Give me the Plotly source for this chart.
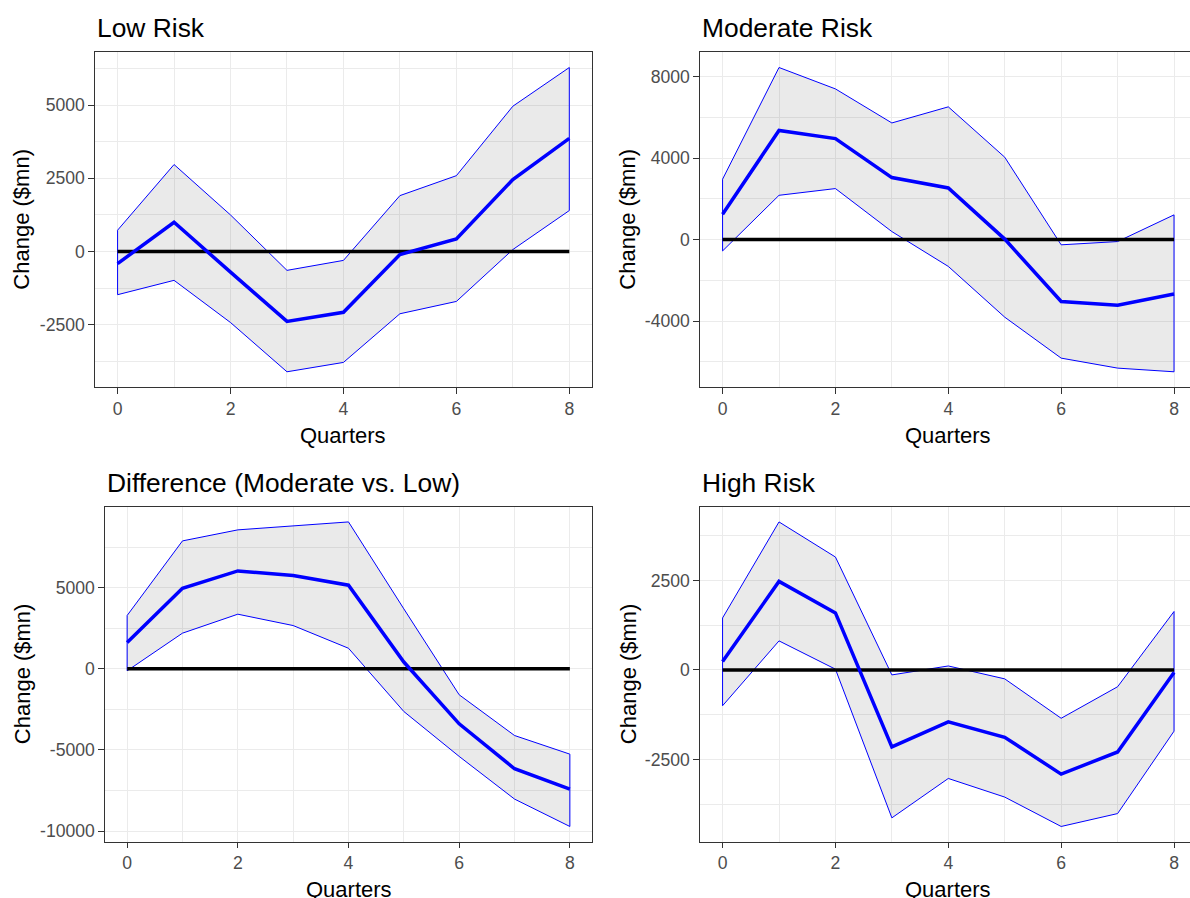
import plotly.graph_objects as go

# ---------------- data ----------------
quarters = [0, 1, 2, 3, 4, 5, 6, 7, 8]
x_ticks = [0, 2, 4, 6, 8]

low_mean  = [-410, 1000, -700, -2380, -2070, -100, 430, 2460, 3860]
low_upper = [730, 2970, 1250, -640, -300, 1910, 2590, 4960, 6280]
low_lower = [-1470, -980, -2420, -4100, -3780, -2120, -1700, 70, 1400]
low_yticks = [-2500, 0, 2500, 5000]

mod_mean  = [1240, 5350, 4950, 3040, 2530, 20, -3040, -3220, -2670]
mod_upper = [2960, 8440, 7390, 5720, 6510, 4040, -260, -100, 1210]
mod_lower = [-560, 2170, 2500, 390, -1320, -3810, -5820, -6310, -6490]
mod_yticks = [-4000, 0, 4000, 8000]

diff_mean  = [1620, 4970, 6040, 5750, 5160, 420, -3390, -6160, -7420]
diff_upper = [3290, 7890, 8570, 8820, 9060, 3700, -1600, -4110, -5260]
diff_lower = [-120, 2200, 3370, 2670, 1270, -2630, -5400, -8030, -9720]
diff_yticks = [-10000, -5000, 0, 5000]

high_mean  = [233, 2470, 1590, -2150, -1450, -1880, -2910, -2290, -75]
high_upper = [1450, 4130, 3150, -140, 110, -250, -1350, -470, 1630]
high_lower = [-1000, 810, 20, -4130, -3030, -3550, -4370, -4010, -1710]
high_yticks = [-2500, 0, 2500]

zero_line = [0] * len(quarters)

titles = ["Low Risk", "Moderate Risk", "Difference (Moderate vs. Low)", "High Risk"]
x_title = "Quarters"
y_title = "Change ($mn)"

# ---------------- layout constants (pixels) ----------------
W, H = 1190, 898
# (left, right_full, top, bottom) ; right_full may exceed the canvas
boxes = [
    (95, 591.9, 52.3, 387.0),
    (700, 1196.6, 52.3, 387.0),
    (105, 592.0, 506.7, 841.7),
    (700, 1196.6, 506.7, 841.7),
]
ytitle_x = [22, 628, 22, 628]

FONT = "Liberation Sans, Arial, sans-serif"
GRID = "#EBEBEB"
BORDER = "#333333"

panels = [
    (low_mean, low_upper, low_lower, low_yticks),
    (mod_mean, mod_upper, mod_lower, mod_yticks),
    (diff_mean, diff_upper, diff_lower, diff_yticks),
    (high_mean, high_upper, high_lower, high_yticks),
]

fig = go.Figure()
annotations = []

for i, ((mean, upper, lower, yt), (l, rf, t, b)) in enumerate(zip(panels, boxes)):
    n = i + 1
    xa = "x" if n == 1 else f"x{n}"
    ya = "y" if n == 1 else f"y{n}"
    xkey = "xaxis" if n == 1 else f"xaxis{n}"
    ykey = "yaxis" if n == 1 else f"yaxis{n}"

    # ribbon
    fig.add_trace(go.Scatter(
        x=quarters + quarters[::-1] + [quarters[0]],
        y=upper + lower[::-1] + [upper[0]],
        mode="lines", fill="toself",
        fillcolor="rgba(51,51,51,0.1)",
        line=dict(color="#0000FF", width=1),
        xaxis=xa, yaxis=ya, showlegend=False, hoverinfo="skip"))
    # zero line
    fig.add_trace(go.Scatter(
        x=quarters, y=zero_line, mode="lines",
        line=dict(color="black", width=3.5),
        xaxis=xa, yaxis=ya, showlegend=False))
    # mean
    fig.add_trace(go.Scatter(
        x=quarters, y=mean, mode="lines",
        line=dict(color="#0000FF", width=3.5),
        xaxis=xa, yaxis=ya, showlegend=False))

    # ranges (ggplot-like 5% expansion)
    lo = min(lower + zero_line)
    hi = max(upper + zero_line)
    pad = 0.05 * (hi - lo)
    xlo, xhi = -0.4, 8.4
    r = min(rf, W)
    xhi_vis = xlo + (xhi - xlo) * (r - l) / (rf - l)
    clipped = rf > W
    ystep = yt[1] - yt[0]

    fig.layout[xkey] = dict(
        domain=[l / W, r / W], anchor=ya, range=[xlo, xhi_vis],
        tickmode="array", tickvals=x_ticks, ticktext=[str(v) for v in x_ticks],
        ticks="outside", ticklen=5.5, tickwidth=1.1,
        tickcolor=BORDER, showgrid=True, gridcolor=GRID, gridwidth=1.3,
        minor=dict(dtick=1, tick0=0, showgrid=True, gridcolor=GRID, gridwidth=0.7, ticks=""),
        zeroline=False, showline=True, linecolor=BORDER, linewidth=1.3, mirror=True,
        automargin=False,
        tickfont=dict(family=FONT, size=17.6, color="#4D4D4D"), fixedrange=True)
    fig.layout[ykey] = dict(
        domain=[1 - b / H, 1 - t / H], anchor=xa, range=[lo - pad, hi + pad],
        tickmode="array", tickvals=yt, ticktext=[str(v) for v in yt],
        ticks="outside", ticklen=5.5, tickwidth=1.1,
        tickcolor=BORDER, showgrid=True, gridcolor=GRID, gridwidth=1.3,
        minor=dict(dtick=ystep / 2, tick0=ystep / 2, showgrid=True, gridcolor=GRID, gridwidth=0.7, ticks=""),
        zeroline=False, showline=True, linecolor=BORDER, linewidth=1.3,
        mirror=not clipped, automargin=False,
        tickfont=dict(family=FONT, size=17.6, color="#4D4D4D"), fixedrange=True)

    # plot title
    annotations.append(dict(
        text=titles[i], xref="paper", yref="paper",
        x=l / W, y=1 - (t - 24) / H, xanchor="left", yanchor="middle",
        showarrow=False, font=dict(family=FONT, size=26.4, color="black")))
    # x title
    annotations.append(dict(
        text=x_title, xref="paper", yref="paper",
        x=((l + rf) / 2) / W, y=1 - (b + 48) / H, xanchor="center", yanchor="middle",
        showarrow=False, font=dict(family=FONT, size=22, color="black")))
    # y title
    annotations.append(dict(
        text=y_title, xref="paper", yref="paper", textangle=-90,
        x=ytitle_x[i] / W, y=1 - ((t + b) / 2) / H, xanchor="center", yanchor="middle",
        showarrow=False, font=dict(family=FONT, size=22, color="black")))

fig.update_layout(
    template="none",
    width=W, height=H, autosize=False,
    margin=dict(l=0, r=0, t=0, b=0, pad=0),
    paper_bgcolor="white", plot_bgcolor="white",
    annotations=annotations, showlegend=False,
    font=dict(family=FONT))

fig.write_html(
    "out.html",
    config={"displayModeBar": False},
    post_script="document.body.style.margin='0';document.body.style.overflow='hidden';",
)
